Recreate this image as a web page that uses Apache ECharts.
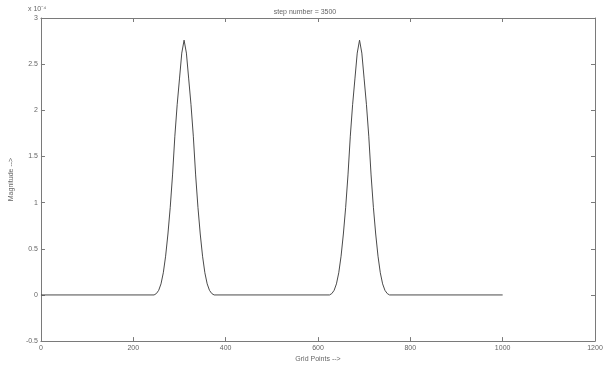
<!DOCTYPE html>
<html>
<head>
<meta charset="utf-8">
<script src="https://cdn.jsdelivr.net/npm/echarts@6/dist/echarts.min.js"></script>
<style>
  html, body { margin: 0; padding: 0; background: #fff; }
  #chart { width: 610px; height: 368px; }
</style>
</head>
<body>
<div id="chart"></div>
<script>
// grid point positions and magnitude in units of 1e-4
const gridPoints = [
  0,
  245, 250, 255, 260, 265, 270, 275, 280, 285, 290, 295, 300, 305, 310,
  315, 320, 325, 330, 335, 340, 345, 350, 355, 360, 365, 370, 375,
  625, 630, 635, 640, 645, 650, 655, 660, 665, 670, 675, 680, 685, 690,
  695, 700, 705, 710, 715, 720, 725, 730, 735, 740, 745, 750, 755,
  1000
];
const magnitude = [
  0,
  0, 0.015, 0.05, 0.12, 0.24, 0.42, 0.66, 0.95, 1.30, 1.72, 2.06, 2.34, 2.62, 2.76,
  2.62, 2.34, 2.06, 1.72, 1.30, 0.95, 0.66, 0.42, 0.24, 0.12, 0.05, 0.015, 0,
  0, 0.015, 0.05, 0.12, 0.24, 0.42, 0.66, 0.95, 1.30, 1.72, 2.06, 2.34, 2.62, 2.76,
  2.62, 2.34, 2.06, 1.72, 1.30, 0.95, 0.66, 0.42, 0.24, 0.12, 0.05, 0.015, 0,
  0
];
const xTicks = [0, 200, 400, 600, 800, 1000, 1200];
const yTicks = [-0.5, 0, 0.5, 1, 1.5, 2, 2.5, 3];

const chart = echarts.init(document.getElementById('chart'));

const axisColor = '#7a7a7a';
const textColor = '#666';
const font = 'Liberation Sans, Arial, sans-serif';

const boxAxis = {
  axisLine: { show: true, onZero: false, lineStyle: { color: axisColor, width: 1 } },
  axisTick: { show: true, inside: true, length: 4, lineStyle: { color: axisColor } },
  splitLine: { show: false }
};

chart.setOption({
  animation: false,
  title: {
    text: 'step number = 3500',
    left: 'center',
    top: 4,
    textStyle: { fontSize: 7, fontWeight: 'normal', color: textColor, fontFamily: font }
  },
  graphic: [{
    type: 'text',
    left: 28,
    top: 6,
    style: { text: 'x 10⁻⁴', fontSize: 7, fill: textColor, fontFamily: font }
  }],
  grid: { left: 39, right: 15, top: 18, bottom: 23 },
  xAxis: [{
    type: 'value',
    min: xTicks[0],
    max: xTicks[xTicks.length - 1],
    interval: 200,
    name: 'Grid Points -->',
    nameLocation: 'middle',
    nameGap: 12,
    nameTextStyle: { fontSize: 7, color: textColor, fontFamily: font },
    axisLabel: { fontSize: 7, color: textColor, margin: 3, fontFamily: font, formatter: v => String(v) },
    ...boxAxis
  }, {
    type: 'value',
    position: 'top',
    min: xTicks[0],
    max: xTicks[xTicks.length - 1],
    interval: 200,
    axisLabel: { show: false },
    ...boxAxis
  }],
  yAxis: [{
    type: 'value',
    min: yTicks[0],
    max: yTicks[yTicks.length - 1],
    interval: 0.5,
    name: 'Magnitude -->',
    nameLocation: 'middle',
    nameGap: 18,
    nameRotate: 90,
    nameTextStyle: { fontSize: 7, color: textColor, fontFamily: font },
    axisLabel: { fontSize: 7, color: textColor, margin: 3, fontFamily: font },
    ...boxAxis
  }, {
    type: 'value',
    position: 'right',
    min: yTicks[0],
    max: yTicks[yTicks.length - 1],
    interval: 0.5,
    axisLabel: { show: false },
    ...boxAxis
  }],
  series: [{
    type: 'line',
    xAxisIndex: 0,
    yAxisIndex: 0,
    data: gridPoints.map((x, i) => [x, magnitude[i]]),
    showSymbol: false,
    lineStyle: { color: '#4a4a4a', width: 1 }
  }]
});
</script>
</body>
</html>
